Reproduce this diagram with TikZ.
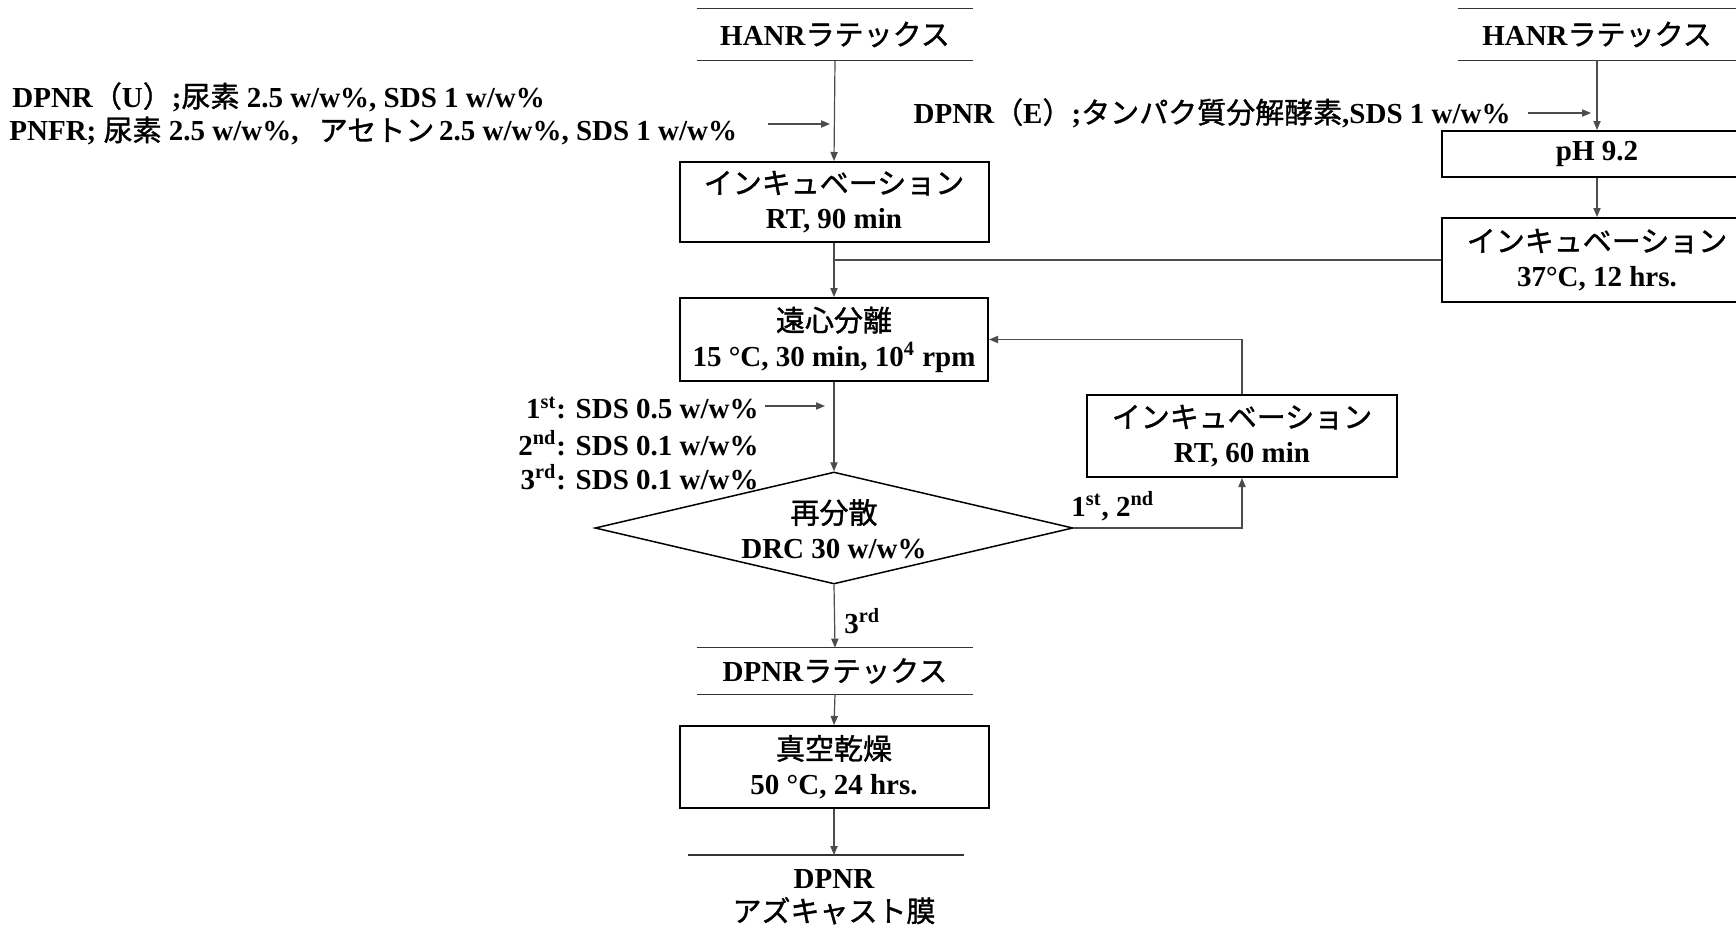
\documentclass[tikz,border=0pt]{standalone}
\usepackage{fontspec}
\setmainfont{Liberation Serif}
\newfontfamily\jpfont[FakeBold=1.2]{Noto Sans CJK JP}
\usetikzlibrary{arrows.meta,shapes.geometric}
\newcommand\J[1]{{\jpfont\mdseries #1}}
\begin{document}
\begin{tikzpicture}[x=0.5pt,y=-0.5pt,
  every node/.style={font=\bfseries\fontsize{14.5pt}{17.5pt}\selectfont},
  procbox/.style={draw=black, line width=1pt, minimum width=154.5pt, minimum height=41pt, inner sep=0pt, align=center},
  latexhdr/.style={minimum width=138pt, minimum height=23pt, inner sep=0pt},
  hline/.style={draw=black!80, line width=0.75pt},
  conn/.style={draw=black!70, line width=0.6pt},
  arr/.style={conn, -{Triangle[length=4.5pt,width=3.6pt]}},
  lbl/.style={inner sep=0pt}]
\fill[white] (0,0) rectangle (1736,926);
\clip (0,0) rectangle (1736,926);

% left column
\node[latexhdr, minimum height=25.5pt] (hanrL) at (835,34.5) {HANR\J{ラテックス}};
\draw[hline] (hanrL.north west) -- (hanrL.north east);
\draw[hline] (hanrL.south west) -- (hanrL.south east);

\node[lbl, anchor=west] (tU) at (12,97) {DPNR\J{（}U\J{）};\J{尿素} 2.5 w/w\%, SDS 1 w/w\%};
\node[lbl, anchor=west] (tP) at (9,131) {PNFR;\ \J{尿素} 2.5 w/w\%,\hspace{0.7em}\J{アセトン}\,2.5 w/w\%, SDS 1 w/w\%};

\node[procbox, minimum height=40pt] (incL) at (834,202) {\J{インキュベーション}\\RT, 90 min};
\node[procbox, minimum height=41.5pt, minimum width=154pt] (cent) at (834,339.5) {\J{遠心分離}\\15 °C, 30 min, 10\textsuperscript{4} rpm};

\node[lbl, anchor=east] (s1) at (759,408) {1\textsuperscript{st}: SDS 0.5 w/w\%};
\node[lbl, anchor=east] (s2) at (759,443) {2\textsuperscript{nd}: SDS 0.1 w/w\%};
\node[lbl, anchor=east] (s3) at (759,477) {3\textsuperscript{rd}: SDS 0.1 w/w\%};

\node[draw=black, line width=0.75pt, diamond, minimum width=239pt, minimum height=56pt, inner sep=0pt] (rd) at (834,528) {};
\node[align=center, inner sep=0pt] (rdt) at (834,529) {\J{再分散}\\DRC 30 w/w\%};

\node[lbl, anchor=west] (l12) at (1071,506) {1\textsuperscript{st}, 2\textsuperscript{nd}};
\node[procbox, minimum width=155pt] (rt60) at (1242,436) {\J{インキュベーション}\\RT, 60 min};

\node[lbl, anchor=west] (l3) at (844,621) {3\textsuperscript{rd}};

\node[latexhdr] (dpnrL) at (835,671) {DPNR\J{ラテックス}};
\draw[hline] (dpnrL.north west) -- (dpnrL.north east);
\draw[hline] (dpnrL.south west) -- (dpnrL.south east);

\node[procbox] (vac) at (834,767) {\J{真空乾燥}\\50 °C, 24 hrs.};

\node[anchor=north, minimum width=137.5pt, inner xsep=0pt, inner ysep=7pt, align=center,
      font=\bfseries\fontsize{14.5pt}{16.7pt}\selectfont] (fin) at (834,855) {DPNR\\\J{アズキャスト膜}};
\draw[hline] ([xshift=-4pt]fin.north west) -- ([xshift=-4pt]fin.north east);

% right column
\node[latexhdr, minimum height=25.5pt, minimum width=139pt] (hanrR) at (1597,34.5) {HANR\J{ラテックス}};
\draw[hline] (hanrR.north west) -- (hanrR.north east);
\draw[hline] (hanrR.south west) -- (hanrR.south east);

\node[lbl, anchor=east] (tE) at (1511,113) {DPNR\J{（}E\J{）};\J{タンパク質分解酵素},SDS 1 w/w\%};

\node[procbox, minimum width=155pt, minimum height=23pt] (pH) at (1597,154) {pH 9.2};
\node[procbox, minimum width=155pt, minimum height=42pt] (incR) at (1597,260) {\J{インキュベーション}\\37°C, 12 hrs.};

% connectors
\draw[arr] (hanrL.south) -- (incL.north);
\coordinate (sU) at (768,124);
\draw[arr, shorten >=2.5pt] (sU) -- (sU -| hanrL.south);
\draw[arr] (incL.south) -- (cent.north);
\draw[conn] (incR.west) -- (incR.west -| incL.south);
\draw[arr] (cent.south) -- (rd.north);
\coordinate (sS) at (765,406);
\draw[arr, shorten >=4.5pt] (sS) -- (sS -| cent.south);
\draw[arr] (rd.east) -| (rt60.south);
\draw[arr] (rt60.north) |- (cent.east);
\draw[arr] (rd.south) -- (dpnrL.north);
\draw[arr] (dpnrL.south) -- (vac.north);
\draw[arr] (vac.south) -- (fin.north);

\draw[arr] (hanrR.south) -- (pH.north);
\coordinate (sE) at (1528,113);
\draw[arr, shorten >=3pt] (sE) -- (sE -| hanrR.south);
\draw[arr] (pH.south) -- (incR.north);
\end{tikzpicture}
\end{document}
